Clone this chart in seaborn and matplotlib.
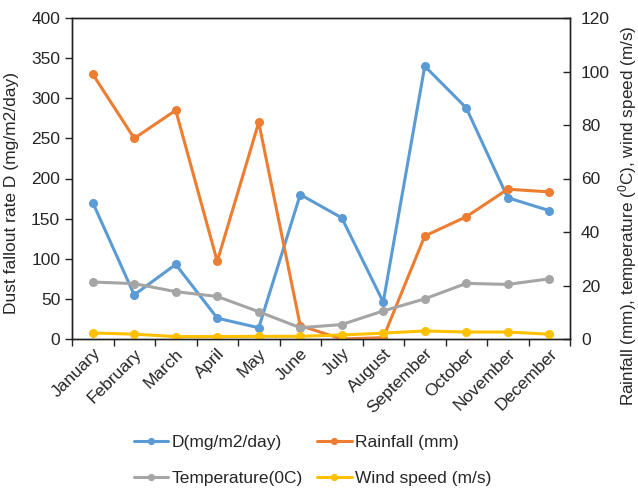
import numpy as np
import pandas as pd
import matplotlib
matplotlib.use("Agg")
import matplotlib.pyplot as plt
import seaborn as sns

months = ["January", "February", "March", "April", "May", "June", "July",
          "August", "September", "October", "November", "December"]
dust = [170, 55, 93, 26, 14, 180, 151, 46, 340, 288, 176, 160]
rainfall = [99, 75, 85.5, 29, 81, 5, 0, 0.5, 38.5, 45.7, 56, 55]
temperature = [21.3, 20.7, 17.7, 15.9, 10.2, 4.2, 5.4, 10.5, 15, 20.8, 20.4, 22.5]
wind = [2.25, 1.8, 0.9, 0.9, 1.0, 1.0, 1.5, 2.2, 3.0, 2.6, 2.6, 1.8]

labels = ["D(mg/m2/day)", "Rainfall (mm)", "Temperature(0C)", "Wind speed (m/s)"]
colors = ["#5B9BD5", "#ED7D31", "#A5A5A5", "#FFC000"]

sns.set_style("ticks")
plt.rcParams["font.family"] = ["Liberation Sans", "DejaVu Sans"]
plt.rcParams["mathtext.default"] = "regular"
plt.rcParams["font.size"] = 12

df = pd.DataFrame({"pos": np.arange(len(months)), "month": months,
                   "dust": dust, "rain": rainfall, "temp": temperature,
                   "wind": wind})

fig = plt.figure(figsize=(6.38, 4.91), dpi=100)
ax = fig.add_axes([72 / 638, 1 - 339 / 491, (570 - 72) / 638, (339 - 18) / 491])
ax2 = ax.twinx()

kw = dict(marker="o", markersize=6.5, markeredgewidth=0, linewidth=2.2, sort=False)
sns.lineplot(data=df, x="pos", y="dust", ax=ax, color=colors[0], label=labels[0], **kw)
sns.lineplot(data=df, x="pos", y="rain", ax=ax2, color=colors[1], label=labels[1], **kw)
sns.lineplot(data=df, x="pos", y="temp", ax=ax2, color=colors[2], label=labels[2], **kw)
sns.lineplot(data=df, x="pos", y="wind", ax=ax2, color=colors[3], label=labels[3], **kw)

ax.set_xlim(-0.5, len(months) - 0.5)
ax.set_ylim(0, 400)
ax2.set_ylim(0, 120)
ax.set_yticks(np.arange(0, 401, 50))
ax2.set_yticks(np.arange(0, 121, 20))

# category labels at centres, tick marks on the boundaries
ax.set_xticks(np.arange(len(months)))
ax.set_xticklabels(months, rotation=45, ha="right", rotation_mode="anchor")
ax.set_xticks(np.arange(-0.5, len(months)), minor=True)
ax.tick_params(axis="x", which="major", length=0, pad=5, labelsize=12.5)
ax.tick_params(axis="x", which="minor", length=5, width=1, direction="out")
ax.tick_params(axis="y", length=5, width=1, direction="out", labelsize=12.5)
ax2.tick_params(axis="y", length=5, width=1, direction="in", pad=8, labelsize=12.5)

ax.set_xlabel("")
ax.set_ylabel("Dust fallout rate D (mg/m2/day)", fontsize=12.5)
ax.yaxis.set_label_coords(-0.106, 0.455)
ax2.set_ylabel(r"Rainfall (mm), temperature ($^{0}$C), wind speed (m/s)",
               fontsize=12.3)
ax2.yaxis.set_label_coords(1.092, 0.385)

for a in (ax, ax2):
    for s in a.spines.values():
        s.set_color("#222222")
        s.set_linewidth(1.0)
    a.grid(False)

h1, l1 = ax.get_legend_handles_labels()
h2, l2 = ax2.get_legend_handles_labels()
for a in (ax, ax2):
    if a.get_legend() is not None:
        a.get_legend().remove()
handles = [h1[0], h2[1], h2[0], h2[2]]
names = [l1[0], l2[1], l2[0], l2[2]]
fig.legend(handles, names, ncol=2, loc="center", bbox_to_anchor=(0.49, 0.063),
           frameon=False, fontsize=12.5, handlelength=2.0, handletextpad=0.2,
           columnspacing=0.8, labelspacing=1.2, markerscale=0.8)

fig.savefig("out.png", dpi=100, facecolor="white")
